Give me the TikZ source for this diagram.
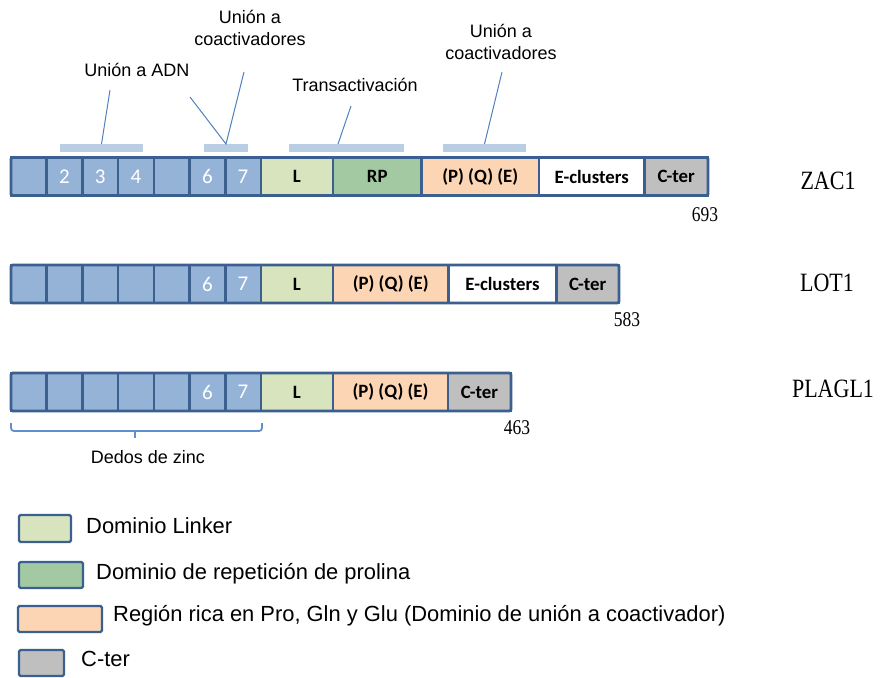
\documentclass[tikz,border=0pt]{standalone}
\usepackage{fontspec}
\setmainfont{Liberation Sans}
\newfontfamily\calib{Carlito}
\newfontfamily\tms{Liberation Serif}
\usepackage{graphicx}
\usetikzlibrary{calc}
\definecolor{bordc}{RGB}{59,96,143}
\definecolor{zf}{RGB}{149,179,215}
\definecolor{lnk}{RGB}{215,228,189}
\definecolor{rpc}{RGB}{163,201,163}
\definecolor{pqe}{RGB}{252,213,181}
\definecolor{cterc}{RGB}{191,191,191}
\definecolor{barc}{RGB}{185,205,229}
\definecolor{linec}{RGB}{79,129,189}
\definecolor{bracec}{RGB}{96,143,205}
\newcommand{\vstr}[1]{\scalebox{1}[1.2]{#1}}
\begin{document}
\begin{tikzpicture}[x=1pt,y=-1pt,
  cell/.style={draw=bordc, line width=2.6pt, minimum height=38pt, inner sep=0pt, outer sep=0pt, anchor=west},
  zfc/.style={cell, fill=zf, minimum width=35.7pt, text=white, font=\calib\fontsize{21}{21}\selectfont},
  dom/.style={cell, font=\calib\bfseries\fontsize{18.8}{18.8}\selectfont},
  frame/.style={draw=bordc, line width=2.8pt, rounded corners=1.5pt},
  bar/.style={fill=barc, minimum height=8pt, inner sep=0pt, outer sep=0pt},
  lab/.style={inner sep=0pt, font=\fontsize{18}{22}\selectfont, align=center},
  conn/.style={draw=linec, line width=1pt},
  nm/.style={inner sep=0pt, font=\tms\fontsize{22}{22}\selectfont},
  num/.style={inner sep=0pt, font=\tms\fontsize{17.5}{17.5}\selectfont},
  lg/.style={draw=bordc, line width=2.2pt, rounded corners=1.5pt, inner sep=0pt},
  lgt/.style={inner sep=0pt, anchor=base west, font=\fontsize{21.9}{21.9}\selectfont},
  brc/.style={draw=bracec, line width=1.8pt, rounded corners=3pt}]
\useasboundingbox (0,0) rectangle (880,677);

% ---- ZAC1 ----
\foreach \i/\t in {1/{},2/2,3/3,4/4,5/{},6/6,7/7}
  \node[zfc] (z\i) at ({11+(\i-1)*35.7},176.5) {\t};
\node[dom, fill=lnk, minimum width=72.1pt] (zL) at (z7.east) {L};
\node[dom, fill=rpc, minimum width=88.5pt] (zRP) at (zL.east) {RP};
\node[dom, fill=pqe, minimum width=117.5pt] (zP) at (zRP.east) {(P) (Q) (E)};
\node[dom, fill=white, minimum width=105.5pt] (zE) at (zP.east) {E-clusters};
\node[dom, fill=cterc, minimum width=63.5pt] (zC) at (zE.east) {C-ter};
\draw[frame] (z1.north west) rectangle (zC.south east);

% ---- LOT1 ----
\foreach \i/\t in {1/{},2/{},3/{},4/{},5/{},6/6,7/7}
  \node[zfc] (l\i) at ({11+(\i-1)*35.7},284) {\t};
\node[dom, fill=lnk, minimum width=72.1pt] (lL) at (l7.east) {L};
\node[dom, fill=pqe, minimum width=115.5pt] (lP) at (lL.east) {(P) (Q) (E)};
\node[dom, fill=white, minimum width=108pt] (lE) at (lP.east) {E-clusters};
\node[dom, fill=cterc, minimum width=62.5pt] (lC) at (lE.east) {C-ter};
\draw[frame] (l1.north west) rectangle (lC.south east);

% ---- PLAGL1 ----
\foreach \i/\t in {1/{},2/{},3/{},4/{},5/{},6/6,7/7}
  \node[zfc] (p\i) at ({11+(\i-1)*35.7},392) {\t};
\node[dom, fill=lnk, minimum width=72.1pt] (pL) at (p7.east) {L};
\node[dom, fill=pqe, minimum width=115pt] (pP) at (pL.east) {(P) (Q) (E)};
\node[dom, fill=cterc, minimum width=63pt] (pC) at (pP.east) {C-ter};
\draw[frame] (p1.north west) rectangle (pC.south east);

% ---- bars ----
\node[bar, minimum width=83pt] (b1) at (101.5,148) {};
\node[bar, minimum width=44pt] (b2) at (226,148) {};
\node[bar, minimum width=115pt] (b3) at (346.5,148) {};
\node[bar, minimum width=83pt] (b4) at (484.5,148) {};

% ---- labels ----
\node[lab, anchor=base] (tADN) at (137,76) {Unión a ADN};
\node[lab, anchor=base] (tCo1) at (250,45.5) {Unión a\\coactivadores};
\node[lab, anchor=base] (tTr) at (355,91.7) {Transactivación};
\node[lab, anchor=base] (tCo2) at (501,59.5) {Unión a\\coactivadores};

\coordinate (c1) at (110,90);
\coordinate (c2a) at (190,97);
\coordinate (c2b) at (244,72);
\coordinate (c3) at (351,106);
\coordinate (c4) at (502,72);
\draw[conn] (b1.north) -- (c1);
\draw[conn] (c2a) -- (b2.north) -- (c2b);
\draw[conn] ($(b3.north)+(-8.5,0)$) -- (c3);
\draw[conn] (b4.north) -- (c4);

% ---- names and lengths ----
\node[nm] (nZ) at (828,181) {\vstr{ZAC1}};
\node[nm] (nL) at (827,283) {\vstr{LOT1}};
\node[nm] (nP) at (833,389) {\vstr{PLAGL1}};
\node[num] (m1) at (705,215) {\vstr{693}};
\node[num] (m2) at (627,320) {\vstr{583}};
\node[num] (m3) at (517,428) {\vstr{463}};

% ---- brace ----
\coordinate (bra) at (11,423);
\coordinate (brb) at (262,423);
\coordinate (brm) at (135,431);
\coordinate (brt) at (135,438);
\draw[brc] (bra) -- (11,431) -- (262,431) -- (brb);
\draw[draw=bracec, line width=1.8pt] (brm) -- (brt);
\node[lab, anchor=base] (tDz) at (148,463) {Dedos de zinc};

% ---- legend ----
\node[lg, fill=lnk, minimum width=52pt, minimum height=27pt] (g1) at (45,528.5) {};
\node[lg, fill=rpc, minimum width=64pt, minimum height=26pt] (g2) at (51,575) {};
\node[lg, fill=pqe, minimum width=84pt, minimum height=26pt] (g3) at (60,619) {};
\node[lg, fill=cterc, minimum width=45pt, minimum height=26pt] (g4) at (41.5,663) {};
\node[lgt] (gt1) at (86,533) {Dominio Linker};
\node[lgt] (gt2) at (96,579) {Dominio de repetición de prolina};
\node[lgt] (gt3) at (113,621.7) {Región rica en Pro, Gln y Glu (Dominio de unión a coactivador)};
\node[lgt] (gt4) at (81,666.7) {C-ter};
\end{tikzpicture}
\end{document}
